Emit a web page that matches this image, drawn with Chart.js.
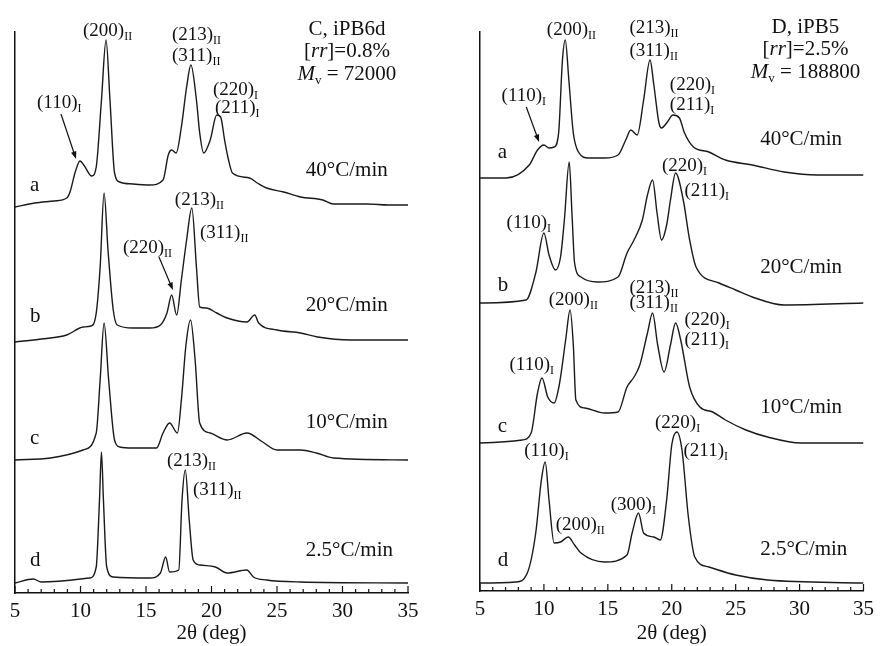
<!DOCTYPE html>
<html>
<head>
<meta charset="utf-8">
<script src="https://cdn.jsdelivr.net/npm/chart.js@4.4.0/dist/chart.umd.min.js"></script>
<style>
  body { margin: 0; background: #fff; }
  #wrap { position: relative; width: 880px; height: 646px; }
  canvas { position: absolute; top: 0; }
</style>
</head>
<body>
<div id="wrap">
  <canvas id="chartC" width="440" height="646" style="left:0"></canvas>
  <canvas id="chartD" width="440" height="646" style="left:440px"></canvas>
</div>
<script>
// font e colori
const SERIF = '"Liberation Serif", "Times New Roman", serif';
const INK = '#111';

// etichette comuni
const xTickValues = [5, 10, 15, 20, 25, 30, 35];
const curveNames = ['a', 'b', 'c', 'd'];
const rateLabels = ['40°C/min', '20°C/min', '10°C/min', '2.5°C/min'];

// pannello C, iPB6d (intensita' sfalsate, unita' arbitrarie)
const cA_x = [5, 6.5, 8, 8.95, 9.2, 9.6, 9.96, 10.3, 10.85, 11.2, 11.6, 11.95, 12.25, 12.6, 13.0, 14.0, 15.3, 16.3, 16.7, 16.96, 17.3, 17.7, 18.1, 18.43, 18.85, 19.1, 19.4, 19.9, 20.4, 20.7, 21.0, 21.3, 21.6, 22.9, 23.5, 24.2, 25.5, 26.8, 28.5, 29.3, 31.9, 33.5, 35];
const cA_y = [386, 390, 392, 395, 401, 421, 432, 427, 417, 426, 493, 553, 493, 420, 411, 409, 408, 413, 438, 443, 440, 466, 506, 528, 493, 460, 440, 453, 478, 476, 453, 433, 420, 415, 410, 405, 401, 396, 393, 389, 389, 388, 388];
const cB_x = [5, 7, 8.95, 10.2, 10.8, 11.2, 11.5, 11.8, 12.1, 12.5, 12.8, 14.0, 15.3, 16.1, 16.6, 16.96, 17.34, 17.7, 18.1, 18.5, 18.85, 19.1, 19.6, 20.4, 21.2, 22.7, 23.3, 23.6, 25, 26.8, 28.1, 30.6, 35];
const cB_y = [251, 254, 258, 266, 267, 280, 326, 400, 343, 283, 268, 265, 265, 268, 280, 298, 278, 313, 353, 385, 326, 286, 285, 280, 275, 271, 278, 270, 263, 260, 256, 253, 253];
const cC_x = [5, 7.7, 10.2, 11.2, 11.5, 11.8, 12.15, 12.6, 13, 14, 15.8, 16.3, 16.8, 17.4, 17.7, 18.05, 18.4, 18.75, 19.1, 19.9, 21.2, 22.7, 23.9, 25, 26.8, 28, 29.3, 35];
const cC_y = [133, 135, 143, 160, 213, 270, 213, 153, 146, 145, 145, 160, 170, 160, 193, 248, 273, 233, 170, 160, 153, 160, 151, 143, 143, 140, 135, 133];
const cD_x = [5, 6.4, 7, 10.7, 11.2, 11.45, 11.6, 11.75, 12.0, 12.5, 15.3, 16.1, 16.5, 16.8, 17.5, 17.75, 18.0, 18.3, 18.6, 19.1, 20.3, 21.2, 22.7, 23.2, 24.2, 26.8, 35];
const cD_y = [10, 14, 11, 15, 26, 93, 141, 93, 26, 16, 15, 20, 36, 21, 23, 93, 123, 73, 33, 28, 26, 20, 23, 16, 13, 11, 10];

// pannello D, iPB5
const dA_x = [5, 7.05, 8.85, 9.5, 10.0, 10.4, 10.8, 11.15, 11.45, 11.67, 11.95, 12.3, 12.7, 13.5, 14.75, 15.8, 16.4, 16.8, 17.3, 17.8, 18.3, 18.6, 19.0, 19.2, 19.6, 20.1, 20.6, 21.0, 21.7, 22.9, 24.2, 26.3, 28.8, 31.4, 35];
const dA_y = [413, 413, 426, 441, 446, 443, 444, 458, 531, 551, 511, 458, 439, 433, 433, 436, 451, 461, 456, 491, 531, 506, 468, 463, 468, 476, 473, 458, 444, 439, 431, 426, 419, 416, 416];
const dB_x = [5, 8.6, 9.36, 10.0, 10.4, 10.9, 11.3, 11.6, 11.98, 12.2, 12.4, 12.9, 14.2, 15.8, 16.5, 17.05, 17.7, 18.1, 18.5, 18.85, 19.2, 19.6, 19.9, 20.3, 20.9, 21.4, 21.9, 23.7, 25, 26.3, 28.8, 35];
const dB_y = [288, 291, 318, 358, 336, 321, 334, 371, 429, 376, 328, 314, 309, 314, 338, 351, 371, 396, 411, 378, 351, 366, 391, 418, 391, 351, 324, 308, 301, 294, 286, 288];
const dC_x = [5, 8.3, 9.0, 9.5, 9.85, 10.3, 10.8, 11.2, 11.7, 12.05, 12.3, 12.5, 13.2, 14.75, 15.8, 16.5, 17.05, 17.5, 18.1, 18.5, 18.9, 19.4, 19.9, 20.3, 20.7, 21.4, 22.2, 23.2, 24.2, 25.8, 27.5, 30.1, 35];
const dC_y = [148, 151, 158, 198, 213, 194, 188, 206, 251, 281, 246, 191, 183, 178, 179, 204, 214, 226, 258, 278, 246, 219, 246, 268, 251, 204, 184, 179, 171, 161, 154, 148, 148];
const dD_x = [5, 7.8, 8.7, 9.36, 9.8, 10.1, 10.4, 10.8, 11.3, 11.9, 12.4, 12.9, 14.75, 16.5, 16.9, 17.4, 17.8, 18.6, 19.1, 19.6, 20.0, 20.4, 20.8, 21.3, 21.8, 22.9, 25, 27.5, 35];
const dD_y = [8, 9, 18, 58, 111, 129, 91, 48, 49, 54, 46, 38, 29, 36, 58, 78, 58, 54, 51, 91, 146, 159, 141, 74, 34, 24, 16, 11, 8];

// etichette dei picchi: [2theta, intensita', indice, fase]
const peaksC = [
  [10.19, 557, '(200)', 'II'], [16.98, 553, '(213)', 'II'], [16.98, 532, '(311)', 'II'],
  [20.11, 498, '(220)', 'I'], [20.27, 480, '(211)', 'I'], [6.68, 485, '(110)', 'I'],
  [17.2, 388, '(213)', 'II'], [19.12, 355, '(311)', 'II'], [13.24, 340, '(220)', 'II'],
  [16.6, 127, '(213)', 'II'], [18.59, 98, '(311)', 'II']
];
const peaksD = [
  [10.23, 556, '(200)', 'II'], [16.69, 558, '(213)', 'II'], [16.69, 535, '(311)', 'II'],
  [19.85, 501, '(220)', 'I'], [19.85, 481, '(211)', 'I'], [6.69, 490, '(110)', 'I'],
  [19.23, 420, '(220)', 'I'], [21.0, 395, '(211)', 'I'], [7.08, 363, '(110)', 'I'],
  [10.38, 286, '(200)', 'II'], [16.69, 298, '(213)', 'II'], [16.69, 283, '(311)', 'II'],
  [21.0, 266, '(220)', 'I'], [21.0, 246, '(211)', 'I'], [7.31, 221, '(110)', 'I'],
  [18.69, 163, '(220)', 'I'], [20.92, 135, '(211)', 'I'], [8.46, 135, '(110)', 'I'],
  [10.92, 61, '(200)', 'II'], [15.23, 81, '(300)', 'I']
];
// frecce: [x1, y1, x2, y2]
const arrowsC = [[8.51, 479, 9.66, 434], [15.99, 336, 17.06, 303]];
const arrowsD = [[8.62, 484, 9.62, 449]];

// intestazioni dei campioni
const headerC = { name: 'C, iPB6d', rr: '0.8%', mv: '72000' };
const headerD = { name: 'D, iPB5', rr: '2.5%', mv: '188800' };

// Funzione per disegnare testo con corsivo e pedici
function drawRich(ctx, parts, x, y, align, size) {
  const fontFor = k => k === 'sub' ? `${Math.round(size * 0.62)}px ${SERIF}`
    : k === 'it' ? `italic ${size}px ${SERIF}` : `${size}px ${SERIF}`;
  let w = 0;
  parts.forEach(p => { ctx.font = fontFor(p[1]); w += ctx.measureText(p[0]).width; });
  let cx = align === 'center' ? x - w / 2 : x;
  ctx.textAlign = 'left';
  ctx.textBaseline = 'alphabetic';
  parts.forEach(p => {
    ctx.font = fontFor(p[1]);
    ctx.fillText(p[0], cx, p[1] === 'sub' ? y + size * 0.2 : y);
    cx += ctx.measureText(p[0]).width;
  });
}

// Plugin per tacche interne, etichette e frecce
function makeDecor(peaks, arrows, header, rateX, rateY, letterX, letterY, headX, headY) {
  return {
    id: 'decor',
    afterDraw(chart) {
      const { ctx, scales: { x, y } } = chart;
      ctx.save();
      ctx.strokeStyle = INK;
      ctx.fillStyle = INK;
      // tacche verso l'interno
      ctx.lineWidth = 1.2;
      for (let v = x.min; v <= x.max; v++) {
        const px = x.getPixelForValue(v);
        const len = v % 5 === 0 ? 7 : 4;
        ctx.beginPath();
        ctx.moveTo(px, x.top);
        ctx.lineTo(px, x.top - len);
        ctx.stroke();
      }
      // etichette dei picchi
      peaks.forEach(p => {
        drawRich(ctx, [[p[2], 'n'], [p[3], 'sub']], x.getPixelForValue(p[0]), y.getPixelForValue(p[1]), 'left', 19);
      });
      // frecce
      arrows.forEach(a => {
        const x1 = x.getPixelForValue(a[0]), y1 = y.getPixelForValue(a[1]);
        const x2 = x.getPixelForValue(a[2]), y2 = y.getPixelForValue(a[3]);
        const ang = Math.atan2(y2 - y1, x2 - x1);
        ctx.lineWidth = 1.2;
        ctx.beginPath();
        ctx.moveTo(x1, y1);
        ctx.lineTo(x2 - 5 * Math.cos(ang), y2 - 5 * Math.sin(ang));
        ctx.stroke();
        ctx.beginPath();
        ctx.moveTo(x2, y2);
        ctx.lineTo(x2 - 8 * Math.cos(ang - 0.35), y2 - 8 * Math.sin(ang - 0.35));
        ctx.lineTo(x2 - 8 * Math.cos(ang + 0.35), y2 - 8 * Math.sin(ang + 0.35));
        ctx.closePath();
        ctx.fill();
      });
      // velocita' di raffreddamento e lettere
      rateLabels.forEach((t, i) => {
        drawRich(ctx, [[t, 'n']], x.getPixelForValue(rateX), y.getPixelForValue(rateY[i]), 'left', 21);
        drawRich(ctx, [[curveNames[i], 'n']], x.getPixelForValue(letterX), y.getPixelForValue(letterY[i]), 'left', 21);
      });
      // intestazione
      const hx = x.getPixelForValue(headX);
      drawRich(ctx, [[header.name, 'n']], hx, y.getPixelForValue(headY[0]), 'center', 21);
      drawRich(ctx, [['[', 'n'], ['rr', 'it'], [']=' + header.rr, 'n']], hx, y.getPixelForValue(headY[1]), 'center', 21);
      drawRich(ctx, [['M', 'it'], ['v', 'sub'], [' = ' + header.mv, 'n']], hx, y.getPixelForValue(headY[2]), 'center', 21);
      ctx.restore();
    }
  };
}

function buildChart(id, curves, yMax, pad, axisHeight, decor) {
  const datasets = curves.map(c => ({
    data: c[0].map((v, i) => ({ x: v, y: c[1][i] })),
    showLine: true,
    borderColor: '#1a1a1a',
    borderWidth: 1.4,
    pointRadius: 0,
    cubicInterpolationMode: 'monotone'
  }));
  return new Chart(document.getElementById(id), {
    type: 'scatter',
    data: { datasets },
    options: {
      responsive: false,
      animation: false,
      layout: { padding: pad },
      plugins: { legend: { display: false }, tooltip: { enabled: false } },
      scales: {
        x: {
          type: 'linear', min: 5, max: 35,
          afterBuildTicks: s => { s.ticks = xTickValues.map(v => ({ value: v })); },
          afterFit: s => { s.height = axisHeight; },
          ticks: { color: INK, font: { family: SERIF, size: 21 }, padding: 6, maxRotation: 0 },
          grid: { display: false, drawTicks: false },
          border: { display: true, color: INK, width: 1.5 },
          title: { display: true, text: '2θ (deg)', color: INK, font: { family: SERIF, size: 21 }, padding: { top: 0, bottom: 0 } }
        },
        y: {
          min: 0, max: yMax,
          ticks: { display: false },
          grid: { display: false, drawTicks: false },
          border: { display: true, color: INK, width: 1.5 }
        }
      }
    },
    plugins: [decor]
  });
}

buildChart('chartC', [[cA_x, cA_y], [cB_x, cB_y], [cC_x, cC_y], [cD_x, cD_y]], 561,
  { left: 15, right: 32, top: 32, bottom: 0 }, 53,
  makeDecor(peaksC, arrowsC, headerC, 27.2, [417, 282, 165, 37], 6.15, [402, 271, 149, 27], 30.34, [558, 536, 513]));

buildChart('chartD', [[dA_x, dA_y], [dB_x, dB_y], [dC_x, dC_y], [dD_x, dD_y]], 559,
  { left: 40, right: 10, top: 32, bottom: 0 }, 55,
  makeDecor(peaksD, arrowsD, headerD, 26.92, [446, 318, 178, 36], 6.38, [433, 300, 159, 25], 30.46, [558, 536, 513]));
</script>
</body>
</html>
